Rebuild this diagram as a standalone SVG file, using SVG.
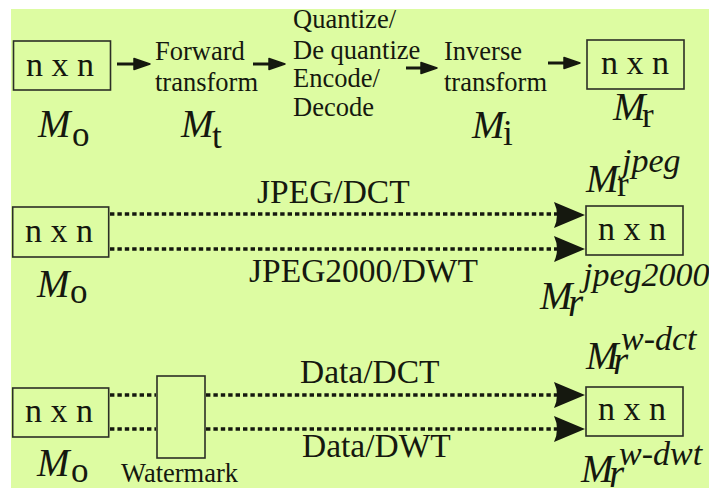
<svg xmlns="http://www.w3.org/2000/svg" width="709" height="488" viewBox="0 0 709 488">
  <style>
    text { font-family: "Liberation Serif", "Times New Roman", serif; fill: #15180f; }
    .box { fill: none; stroke: #2c2e26; stroke-width: 1.6; }
    .nn { font-size: 34px; }
    .lbl { font-size: 26.5px; }
    .big { font-size: 33.5px; }
    .m { font-size: 35px; }
    .it { font-style: italic; font-size: 39px; }
    .sup { font-size: 34px; font-style: italic; }
    .dot { stroke: #15180f; stroke-width: 3.6; stroke-dasharray: 4.4 3; fill: none; }
    .shaft { stroke: #15180f; stroke-width: 3; fill: none; }
    .head { fill: #15180f; }
  </style>
  <defs>
    <path id="smallHead" d="M0,0 L-16,-5.5 L-16,5.5 Z" stroke="#15180f" stroke-width="1.5" stroke-linejoin="round"/>
    <path id="bigHead" d="M0,0 L-31,-13 Q-25,0 -31,13 Z"/>
  </defs>

  <!-- background panel -->
  <rect x="11" y="9" width="698" height="479" fill="#ddfca2"/>

  <!-- ===== Row 1: transform pipeline ===== -->
  <g id="row1-input">
    <rect class="box" x="13.5" y="41" width="97" height="49"/>
    <text class="nn" x="26" y="76">n x n</text>
    <text class="m" x="38" y="137"><tspan class="it">M</tspan><tspan x="72" y="146">o</tspan></text>
  </g>
  <g id="row1-forward">
    <text class="lbl" x="155" y="60">Forward</text>
    <text class="lbl" x="155" y="91">transform</text>
    <text class="m" x="181" y="137"><tspan class="it">M</tspan><tspan x="212" y="148">t</tspan></text>
  </g>
  <g id="row1-quantize">
    <text class="lbl" x="293" y="28">Quantize/</text>
    <text class="lbl" x="293" y="59">De quantize</text>
    <text class="lbl" x="293" y="87">Encode/</text>
    <text class="lbl" x="293" y="116">Decode</text>
  </g>
  <g id="row1-inverse">
    <text class="lbl" x="444" y="60">Inverse</text>
    <text class="lbl" x="444" y="91">transform</text>
    <text class="m" x="472" y="138"><tspan class="it">M</tspan><tspan x="503" y="145">i</tspan></text>
  </g>
  <g id="row1-output">
    <rect class="box" x="587" y="40" width="97" height="49"/>
    <text class="nn" x="601" y="74">n x n</text>
    <text class="m" x="613" y="120"><tspan class="it">M</tspan><tspan x="642" y="127">r</tspan></text>
  </g>

  <!-- ===== Row 2: JPEG / JPEG2000 ===== -->
  <g id="row2-input">
    <rect class="box" x="12.7" y="207" width="96" height="50"/>
    <text class="nn" x="25" y="242">n x n</text>
    <text class="m" x="37" y="297"><tspan class="it">M</tspan><tspan x="70" y="303">o</tspan></text>
  </g>
  <g id="row2-output">
    <rect class="box" x="586" y="206" width="97" height="49"/>
    <text class="nn" x="598" y="240">n x n</text>
    <text class="m" x="586" y="192"><tspan class="it">M</tspan><tspan x="617" y="196">r</tspan><tspan class="sup" x="622" y="172">jpeg</tspan></text>
    <text class="m" x="540" y="309"><tspan class="it">M</tspan><tspan class="it" x="568" y="316">r</tspan><tspan class="sup" x="583" y="286">jpeg2000</tspan></text>
  </g>
  <g id="row2-labels">
    <text class="big" x="257" y="203">JPEG/DCT</text>
    <text class="big" x="249" y="282">JPEG2000/DWT</text>
  </g>

  <!-- ===== Row 3: watermarking ===== -->
  <g id="row3-input">
    <rect class="box" x="12.7" y="388" width="96" height="49"/>
    <text class="nn" x="25" y="422">n x n</text>
    <text class="m" x="37" y="476"><tspan class="it">M</tspan><tspan x="71" y="482">o</tspan></text>
  </g>
  <g id="row3-watermark">
    <rect class="box" x="157" y="376" width="48" height="82"/>
    <text class="lbl" x="121" y="482">Watermark</text>
  </g>
  <g id="row3-output">
    <rect class="box" x="586" y="387" width="97" height="49"/>
    <text class="nn" x="598" y="420">n x n</text>
    <text class="m" x="586" y="369"><tspan class="it">M</tspan><tspan class="it" x="613" y="374">r</tspan><tspan class="sup" x="621" y="350">w-dct</tspan></text>
    <text class="m" x="581" y="482"><tspan class="it">M</tspan><tspan class="it" x="609" y="487">r</tspan><tspan class="sup" x="619" y="465">w-dwt</tspan></text>
  </g>
  <g id="row3-labels">
    <text class="big" x="300" y="383">Data/DCT</text>
    <text class="big" x="302" y="457">Data/DWT</text>
  </g>

  <!-- ===== Connectors ===== -->
  <g id="connectors">
    <!-- row 1 solid arrows -->
    <line class="shaft" x1="117" y1="64" x2="140" y2="64"/>
    <use href="#smallHead" class="head" x="150" y="64"/>
    <line class="shaft" x1="253" y1="64" x2="275" y2="64"/>
    <use href="#smallHead" class="head" x="285" y="64"/>
    <line class="shaft" x1="406" y1="68" x2="427" y2="68"/>
    <use href="#smallHead" class="head" x="437" y="68"/>
    <line class="shaft" x1="548" y1="63" x2="570" y2="63"/>
    <use href="#smallHead" class="head" x="580" y="63"/>

    <!-- row 2 dotted arrows -->
    <line class="dot" x1="110" y1="214" x2="557" y2="214"/>
    <use href="#bigHead" class="head" x="585" y="215"/>
    <line class="dot" x1="110" y1="249" x2="557" y2="249"/>
    <use href="#bigHead" class="head" x="585" y="249"/>

    <!-- row 3 dotted arrows through the watermark -->
    <line class="dot" x1="110" y1="395" x2="156" y2="395"/>
    <line class="dot" x1="206" y1="395" x2="557" y2="395"/>
    <use href="#bigHead" class="head" x="585" y="395"/>
    <line class="dot" x1="110" y1="429" x2="156" y2="429"/>
    <line class="dot" x1="206" y1="429" x2="557" y2="429"/>
    <use href="#bigHead" class="head" x="585" y="429"/>
  </g>
</svg>
